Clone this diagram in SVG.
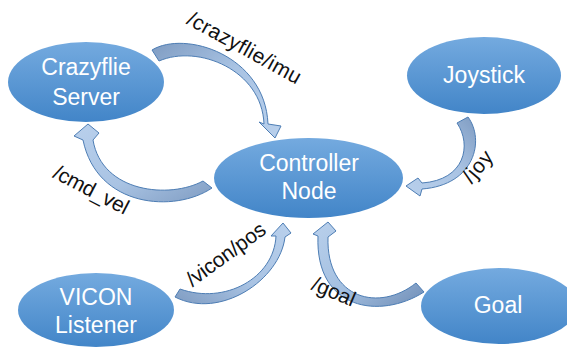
<svg xmlns="http://www.w3.org/2000/svg" width="567" height="349" viewBox="0 0 567 349">
<defs>
<linearGradient id="nodeFill" x1="0" y1="0" x2="0" y2="1">
<stop offset="0" stop-color="#74aadf"/>
<stop offset="1" stop-color="#4285c8"/>
</linearGradient>
<linearGradient id="gImu" x1="0" y1="0" x2="1" y2="1">
<stop offset="0" stop-color="#7f9cc2"/>
<stop offset="0.45" stop-color="#a9c3e3"/>
<stop offset="1" stop-color="#b9d0ec"/>
</linearGradient>
<linearGradient id="gCmd" x1="1" y1="1" x2="0" y2="0">
<stop offset="0" stop-color="#7f9cc2"/>
<stop offset="0.45" stop-color="#a9c3e3"/>
<stop offset="1" stop-color="#b9d0ec"/>
</linearGradient>
<linearGradient id="gJoy" x1="1" y1="0" x2="0" y2="1">
<stop offset="0" stop-color="#7f9cc2"/>
<stop offset="0.45" stop-color="#a9c3e3"/>
<stop offset="1" stop-color="#b9d0ec"/>
</linearGradient>
<linearGradient id="gVic" x1="0" y1="1" x2="1" y2="0">
<stop offset="0" stop-color="#7f9cc2"/>
<stop offset="0.45" stop-color="#a9c3e3"/>
<stop offset="1" stop-color="#b9d0ec"/>
</linearGradient>
<linearGradient id="gGoal" x1="1" y1="1" x2="0" y2="0">
<stop offset="0" stop-color="#6f8db6"/>
<stop offset="0.45" stop-color="#a3bfe0"/>
<stop offset="1" stop-color="#b9d0ec"/>
</linearGradient>
</defs>
<style>
.node ellipse { fill: url(#nodeFill); }
.node text { font-family: "Liberation Sans", Arial, sans-serif; font-size: 23px; fill: #ffffff; text-anchor: middle; }
.arrow { stroke: #4d7db4; stroke-width: 1; stroke-linejoin: round; }
.lbl { font-family: "Liberation Sans", Arial, sans-serif; font-size: 21px; fill: #111111; text-anchor: middle; }
</style>

<g id="connectors">
<path class="arrow" fill="url(#gImu)" d="M152,50 C185,30 265,55 268,124 L281,126 L275,138 L259,122 L264,124 C262,70 198,44 159,61 Z"/>
<path class="arrow" fill="url(#gCmd)" d="M212,188 C175,213 97,208 83,140 L74,136 L88,124 L99,133 L93,140 C102,193 170,199 203,181 Z"/>
<path class="arrow" fill="url(#gJoy)" d="M468,117 C485,140 475,185 422,189 L420,196 L406,186 L418,178 L422,183 C465,180 472,145 457,123 Z"/>
<path class="arrow" fill="url(#gVic)" d="M175,297 C220,320 280,280 285,237 L291,233 L283,223 L271,236 L276,236 C274,278 225,305 180,289 Z"/>
<path class="arrow" fill="url(#gGoal)" d="M424,292 C380,320 315,310 318,236 L313,234 L328,222 L336,231 L328,237 C326,300 380,312 416,283 Z"/>
<text class="lbl" transform="translate(241,54) rotate(29)" textLength="127">/crazyflie/imu</text>
<text class="lbl" transform="translate(88,196) rotate(27.5)" textLength="82">/cmd_vel</text>
<text class="lbl" transform="translate(483,171) rotate(-50)" textLength="35">/joy</text>
<text class="lbl" transform="translate(230,260) rotate(-36)" textLength="93">/vicon/pos</text>
<text class="lbl" transform="translate(331,298) rotate(23)" textLength="45">/goal</text>
</g>

<g id="crazyflie-server" class="node">
<ellipse cx="86" cy="82" rx="78" ry="40"/>
<text x="86" y="75">Crazyflie</text>
<text x="86" y="105">Server</text>
</g>
<g id="joystick" class="node">
<ellipse cx="484" cy="75.5" rx="77" ry="38.5"/>
<text x="484" y="83">Joystick</text>
</g>
<g id="controller-node" class="node">
<ellipse cx="308.5" cy="178" rx="94.5" ry="40"/>
<text x="309" y="171">Controller</text>
<text x="309" y="199">Node</text>
</g>
<g id="vicon-listener" class="node">
<ellipse cx="96" cy="310" rx="78" ry="37"/>
<text x="96" y="305">VICON</text>
<text x="96" y="333">Listener</text>
</g>
<g id="goal" class="node">
<ellipse cx="499" cy="306" rx="78" ry="38"/>
<text x="498" y="313">Goal</text>
</g>
</svg>
